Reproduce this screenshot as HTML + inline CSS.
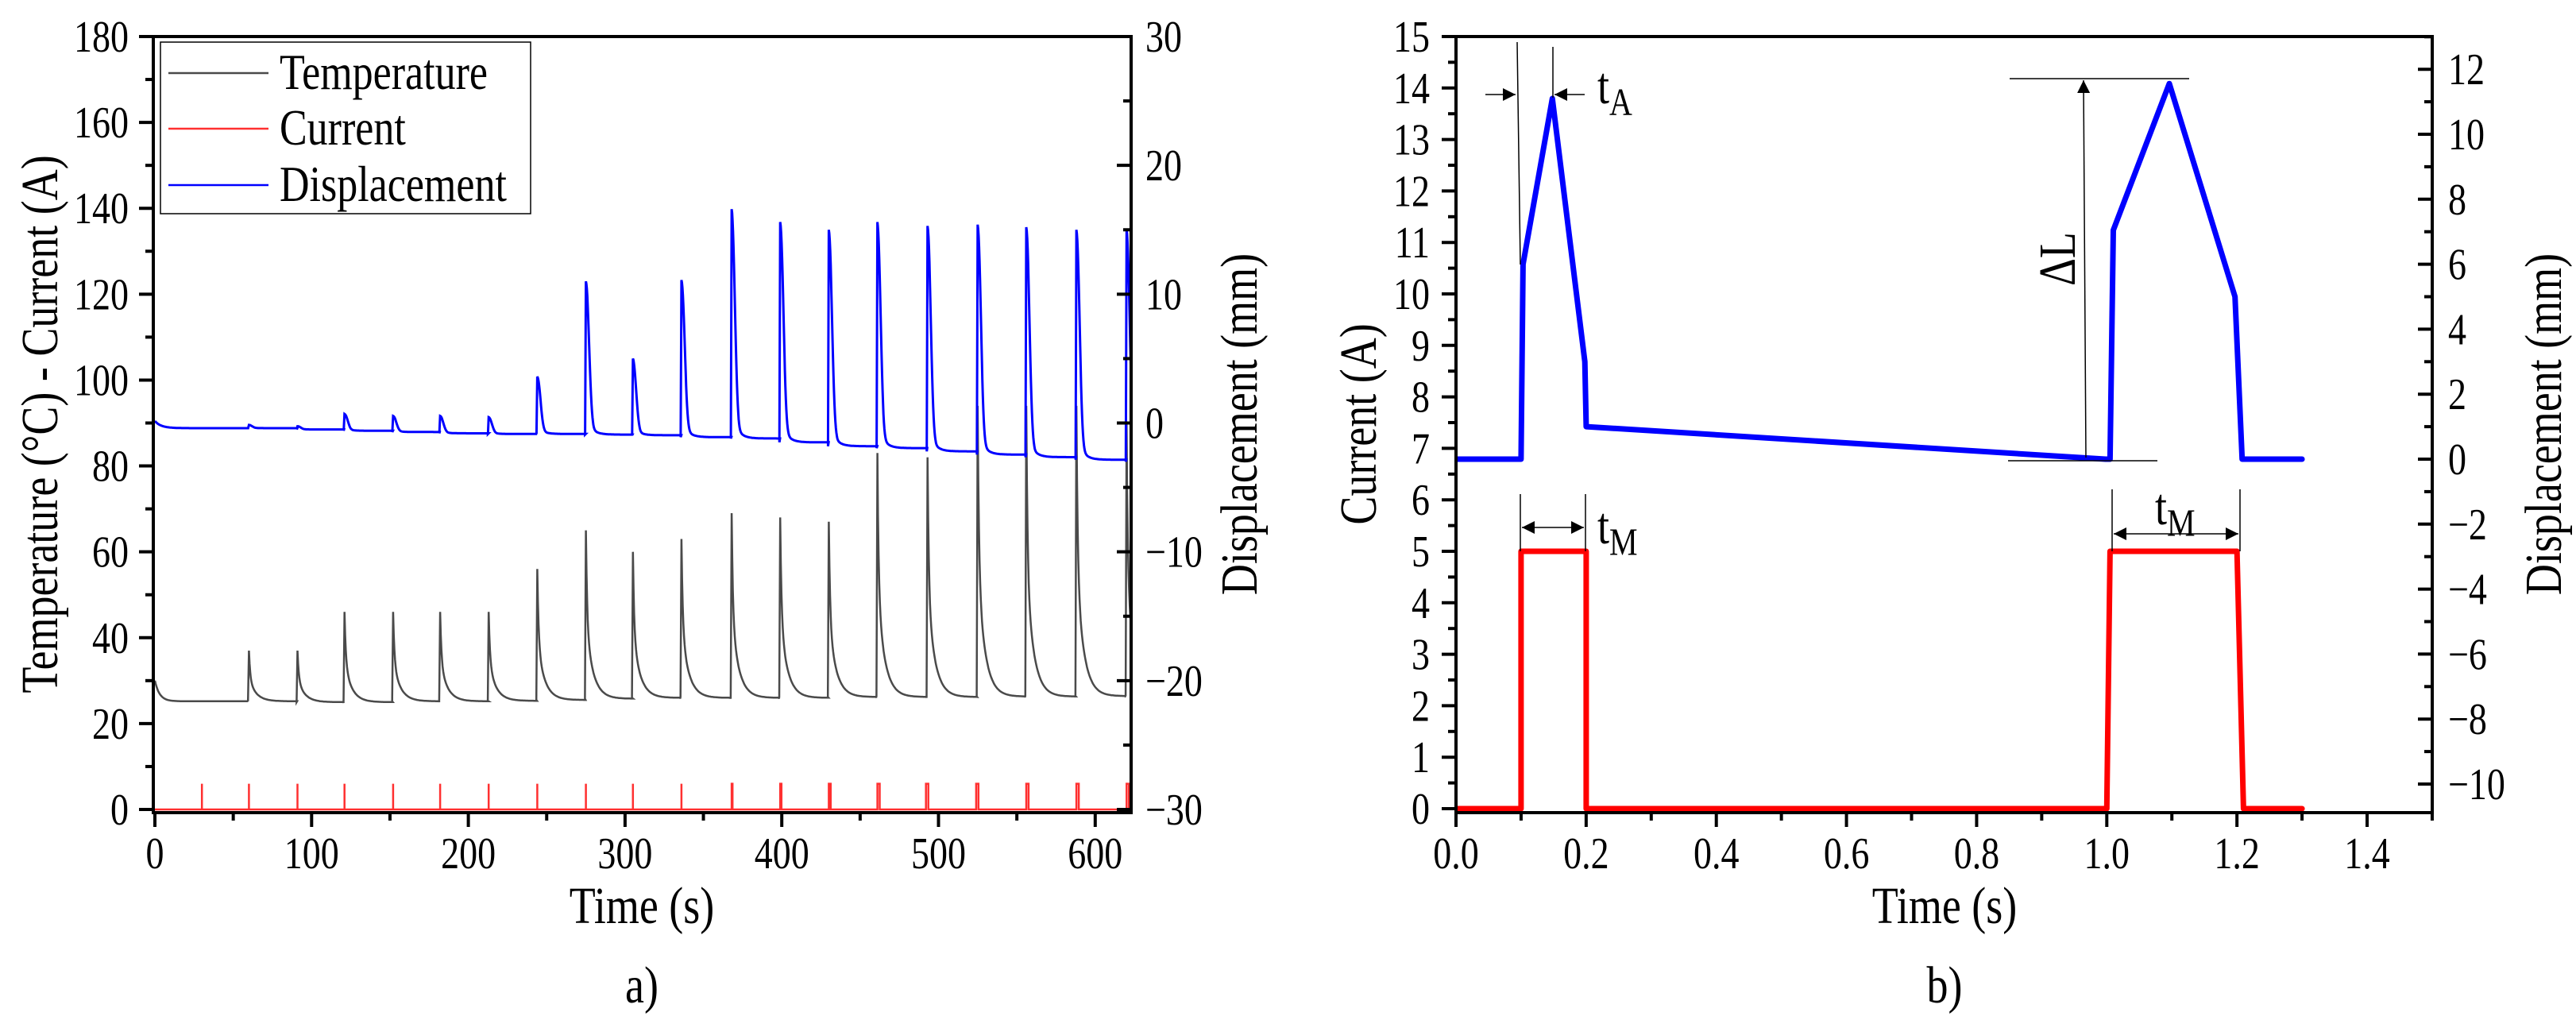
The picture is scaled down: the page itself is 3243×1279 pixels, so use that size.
<!DOCTYPE html>
<html><head><meta charset="utf-8"><style>
html,body{margin:0;padding:0;background:#fff;}
svg{display:block;}
text{font-family:"Liberation Serif","Times New Roman","DejaVu Serif",serif;}
</style></head><body>
<svg id="svg" width="3243" height="1279" viewBox="0 0 3243 1279" xmlns="http://www.w3.org/2000/svg" font-family="Liberation Serif, serif">
<defs>
<clipPath id="clipA"><rect x="193" y="46" width="1231" height="977"/></clipPath>
<clipPath id="clipB"><rect x="1833" y="46" width="1229" height="977"/></clipPath>
<marker id="arrB" viewBox="0 0 10 10" refX="10" refY="5" markerWidth="22" markerHeight="16" markerUnits="userSpaceOnUse" orient="auto-start-reverse"><path d="M0,0 L10,5 L0,10 z" fill="#000"/></marker>
</defs>
<g id="plotA"></g>
<g id="plotB"></g>
</svg>
<script>
// ---------- Plot a data ----------
const peakTimesA = [60,91,121,152,182,213,244,275,305,336,368,399,430,461,493,525,556,588,620];
const tempPeaks = [37,37,46,46,46,46,56,65,60,63,69,68,67,83,82,94,94,94,90];
const tempBase = [25.2,25,25,25.2,25.2,25.3,25.5,25.8,26,26,26,26,26.2,26.2,26.2,26.3,26.3,26.4,26.4];
const dispPeaks = [-0.15,-0.25,0.7,0.55,0.55,0.45,3.6,11,5,11.1,16.6,15.6,15,15.6,15.3,15.4,15.2,15,15];
const dispBase = [-0.4,-0.5,-0.6,-0.7,-0.8,-0.85,-0.85,-0.9,-0.95,-1.1,-1.2,-1.5,-1.8,-1.95,-2.2,-2.45,-2.65,-2.85,-3.0];
const currentTimes = [30,60,91,121,152,182,213,244,275,305,336,368,399,430,461,492,524,556,588,620];
const currentWidths = [0,0,0,0,0,0,0,0,0,0,0,0.6,0.8,1.2,1.5,1.5,1.5,1.5,1.5,1.5];
const currentPeak = [6,6,6,6,6,6,6,6,6,6,6,6,6,6,6,6,6,6,6,6];
const xTicksA = [0,100,200,300,400,500,600];
const yTicksA = [0,20,40,60,80,100,120,140,160,180];
const y2TicksA = [-30,-20,-10,0,10,20,30];
// ---------- Plot b data ----------
const dispTimeB = [0,0.1,0.103,0.148,0.198,0.2,0.998,1.005,1.01,1.096,1.197,1.208,1.3];
const dispValB  = [0,0,6.0,11.1,3.0,1.0,0,0,7.05,11.56,5.0,0,0];
const curTimeB = [0,0.1,0.1,0.2,0.2,1.0,1.005,1.2,1.21,1.3];
const curValB  = [0,0,5,5,0,0,5,5,0,0];
const xTicksB = ["0.0","0.2","0.4","0.6","0.8","1.0","1.2","1.4"];
const yTicksB = [0,1,2,3,4,5,6,7,8,9,10,11,12,13,14,15];
const y2TicksB = [-10,-8,-6,-4,-2,0,2,4,6,8,10,12];

const NS="http://www.w3.org/2000/svg";
const SY=1.22;
function mk(parent,tag,attrs,text){const e=document.createElementNS(NS,tag);for(const k in attrs)e.setAttribute(k,attrs[k]);if(text!==undefined)e.textContent=text;parent.appendChild(e);return e;}
function tx(parent,x,y,size,anchor,str,rot){
  const tr=`translate(${x},${y})`+(rot?` rotate(${rot})`:'')+` scale(1,${SY})`;
  return mk(parent,'text',{x:0,y:0,'font-size':size,'text-anchor':anchor,transform:tr},str);
}

// ===== Plot a =====
const A=document.getElementById('plotA');
const axL=193,axR=1424,axT=46,axB=1023;
const xA=t=>195+t*1.973;
const yA=v=>1019-(v)*(1019-46)/180;
const y2A=v=>1019-(v+30)*(1019-46)/60;
let tp=[];
for(let t=0;t<peakTimesA[0];t+=0.5){tp.push([t,tempBase[0]+4.8*Math.exp(-t/3)]);}
for(let i=0;i<peakTimesA.length;i++){
  const t0=peakTimesA[i],end=(i+1<peakTimesA.length?peakTimesA[i+1]:630);
  const b=tempBase[i],a=tempPeaks[i]-b;
  tp.push([t0-0.6,b]);
  for(let dt=0;t0+dt<end;dt+=0.4){tp.push([t0+dt,b+a*(0.55*Math.exp(-dt/0.8)+0.45*Math.exp(-dt/4.5))]);}
}
let d='';tp.forEach((p,i)=>{d+=(i?'L':'M')+xA(p[0]).toFixed(1)+','+yA(p[1]).toFixed(1);});
let el=mk(A,'path',{d:d,fill:'none',stroke:'#4a4a4a','stroke-width':2.5,'clip-path':'url(#clipA)'});


let dp=[];
for(let t=0;t<peakTimesA[0];t+=0.5){dp.push([t,dispBase[0]+0.55*Math.exp(-t/4)]);}
for(let i=0;i<peakTimesA.length;i++){
  const t0=peakTimesA[i],end=(i+1<peakTimesA.length?peakTimesA[i+1]:630);
  const b=dispBase[i],a=dispPeaks[i]-b;
  dp.push([t0-0.5,b]);
  for(let dt=0;t0+dt<end;dt+=0.3){dp.push([t0+dt,b+a*(0.88*Math.exp(-Math.pow(dt/2.8,2.2))+0.12*Math.exp(-dt/3.5))]);}
}
d='';dp.forEach((p,i)=>{d+=(i?'L':'M')+xA(p[0]).toFixed(1)+','+y2A(p[1]).toFixed(1);});
el=mk(A,'path',{d:d,fill:'none',stroke:'#0000ff','stroke-width':3,'clip-path':'url(#clipA)'});


d='M'+xA(0)+','+yA(0);
currentTimes.forEach((t,i)=>{const w=currentWidths[i];d+='L'+xA(t).toFixed(1)+','+yA(0)+'L'+xA(t).toFixed(1)+','+yA(currentPeak[i]).toFixed(1)+'L'+xA(t+w).toFixed(1)+','+yA(currentPeak[i]).toFixed(1)+'L'+xA(t+w).toFixed(1)+','+yA(0);});
d+='L'+xA(630)+','+yA(0);
el=mk(A,'path',{d:d,fill:'none',stroke:'#ff3030','stroke-width':2.5,'clip-path':'url(#clipA)'});


el=mk(A,'path',{d:`M${axL},${axB}L${axL},${axT}L${axR},${axT}L${axR},${axB}Z`,fill:'none',stroke:'#000','stroke-width':4});


for(let v=0;v<=600;v+=50){const x=xA(v),maj=v%100===0;mk(A,'line',{x1:x,y1:axB,x2:x,y2:axB+(maj?18:10),stroke:'#000','stroke-width':4});}
xTicksA.forEach(v=>{el=tx(A,xA(v),1093,46,'middle',String(v));

});
for(let v=0;v<=180;v+=10){const y=yA(v),maj=v%20===0;mk(A,'line',{x1:axL,y1:y,x2:axL-(maj?18:10),y2:y,stroke:'#000','stroke-width':4});}
yTicksA.forEach(v=>{el=tx(A,162,yA(v)+19,46,'end',String(v));

});
for(let v=-30;v<=30;v+=5){const y=y2A(v),maj=v%10===0;mk(A,'line',{x1:axR,y1:y,x2:axR-(maj?18:10),y2:y,stroke:'#000','stroke-width':4});}
y2TicksA.forEach(v=>{el=tx(A,1442,y2A(v)+19,46,'start',v<0?'\u2212'+Math.abs(v):String(v));

});
el=tx(A,808,1162,54,'middle','Time (s)');


el=tx(A,72,534,54,'middle','Temperature (\u00B0C) - Current (A)',-90);


el=tx(A,1582,534,54,'middle','Displacement (mm)',-90);


el=tx(A,808,1262,54,'middle','a)');


const lg=mk(A,'g',{});


mk(lg,'rect',{x:202,y:53,width:466,height:216,fill:'#fff',stroke:'#000','stroke-width':1.5});
[['Temperature','#4a4a4a',92],['Current','#ff3030',162],['Displacement','#0000ff',233]].forEach(e=>{
  const g=mk(lg,'g',{});
  
  
  mk(g,'line',{x1:212,y1:e[2],x2:338,y2:e[2],stroke:e[1],'stroke-width':2.5});
  tx(g,352,e[2]+20,52,'start',e[0]);
});

// ===== Plot b =====
const B=document.getElementById('plotB');
const bL=1833,bR=3062,bT=46,bB=1023;
const xB=t=>bL+t*819.3;
const yB=v=>1018-v*64.8;
const y2B=v=>578-v*40.9;
d='';dispTimeB.forEach((t,i)=>{d+=(i?'L':'M')+xB(t).toFixed(1)+','+y2B(dispValB[i]).toFixed(1);});
el=mk(B,'path',{d:d,fill:'none',stroke:'#0000ff','stroke-width':7,'stroke-linejoin':'round','stroke-linecap':'round','clip-path':'url(#clipB)'});


d='';curTimeB.forEach((t,i)=>{d+=(i?'L':'M')+xB(t).toFixed(1)+','+yB(curValB[i]).toFixed(1);});
el=mk(B,'path',{d:d,fill:'none',stroke:'#ff0000','stroke-width':7,'stroke-linejoin':'round','stroke-linecap':'round','clip-path':'url(#clipB)'});


el=mk(B,'path',{d:`M${bL},${bB}L${bL},${bT}L${bR},${bT}L${bR},${bB}Z`,fill:'none',stroke:'#000','stroke-width':4});


for(let i=0;i<=15;i++){const v=i/10,x=xB(v),maj=i%2===0;mk(B,'line',{x1:x,y1:bB,x2:x,y2:bB+(maj?18:10),stroke:'#000','stroke-width':4});}
xTicksB.forEach(s=>{el=tx(B,xB(parseFloat(s)),1093,46,'middle',s);

});
for(let i=0;i<=30;i++){const v=i/2,y=yB(v),maj=i%2===0;mk(B,'line',{x1:bL,y1:y,x2:bL-(maj?18:10),y2:y,stroke:'#000','stroke-width':4});}
yTicksB.forEach(v=>{el=tx(B,1800,yB(v)+19,46,'end',String(v));

});
for(let v=-10;v<=13;v++){const y=y2B(v),maj=v%2===0;mk(B,'line',{x1:bR,y1:y,x2:bR-(maj?18:10),y2:y,stroke:'#000','stroke-width':4});}
y2TicksB.forEach(v=>{el=tx(B,3082,y2B(v)+19,46,'start',v<0?'\u2212'+Math.abs(v):String(v));

});
el=tx(B,2448,1162,54,'middle','Time (s)');


el=tx(B,1732,534,54,'middle','Current (A)',-90);


el=tx(B,3224,534,54,'middle','Displacement (mm)',-90);


el=tx(B,2448,1262,54,'middle','b)');


const an=mk(B,'g',{stroke:'#000','stroke-width':1.5,fill:'none'});


mk(an,'line',{x1:1910,y1:53,x2:1914,y2:333});
mk(an,'line',{x1:1955,y1:59,x2:1955,y2:123});
mk(an,'line',{x1:1870,y1:119,x2:1908,y2:119,'marker-end':'url(#arrB)'});
mk(an,'line',{x1:1995,y1:119,x2:1957,y2:119,'marker-end':'url(#arrB)'});
mk(an,'line',{x1:2530,y1:99,x2:2756,y2:99});
mk(an,'line',{x1:2528,y1:580,x2:2716,y2:580});
mk(an,'line',{x1:2626,y1:576,x2:2623,y2:101,'marker-end':'url(#arrB)'});
mk(an,'line',{x1:1914,y1:622,x2:1914,y2:694});
mk(an,'line',{x1:1996,y1:622,x2:1996,y2:694});
mk(an,'line',{x1:1916,y1:664,x2:1994,y2:664,'marker-start':'url(#arrB)','marker-end':'url(#arrB)'});
mk(an,'line',{x1:2659,y1:616,x2:2659,y2:694});
mk(an,'line',{x1:2820,y1:616,x2:2820,y2:694});
mk(an,'line',{x1:2661,y1:672,x2:2818,y2:672,'marker-start':'url(#arrB)','marker-end':'url(#arrB)'});
function sub(x,y,main,s,name){const t=mk(B,'text',{x:0,y:0,'font-size':54,transform:`translate(${x},${y}) scale(1,${SY})`});mk(t,'tspan',{},main);mk(t,'tspan',{'font-size':40,dy:12},s);}
sub(2011,130,'t','A','ta-label');
sub(2011,684,'t','M','tm-label-1');
sub(2713,660,'t','M','tm-label-2');
el=tx(B,2612,326,54,'middle','\u0394L',-90);


</script>
</body></html>
